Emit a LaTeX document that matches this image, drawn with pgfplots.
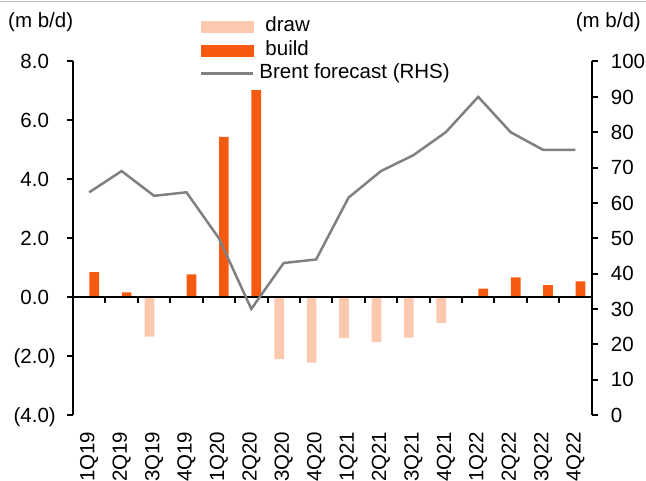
\documentclass[border=0pt]{standalone}
\usepackage{pgfplots}
\usepackage{pgfplotstable}
\pgfplotsset{compat=1.18}
\usepackage{fontspec}
\setmainfont{Liberation Sans}

\definecolor{drawc}{RGB}{252,201,175}
\definecolor{buildc}{RGB}{246,90,16}
\definecolor{brentc}{RGB}{128,128,128}
\definecolor{rulec}{RGB}{192,192,192}

% quarterly inventory change (m b/d) and Brent forecast (RHS)
\pgfplotstableread{
x  draw   build  brent
0   0      0.85  63
1   0      0.16  69
2  -1.34   0     62
3   0      0.77  63
4   0      5.44  50
5   0      7.03  30
6  -2.10   0     43
7  -2.22   0     44
8  -1.39   0     61.5
9  -1.53   0     69
10 -1.37   0     73.5
11 -0.87   0     80
12  0      0.29  90
13  0      0.67  80
14  0      0.41  75
15  0      0.54  75
}\datatable

\pgfplotsset{
  base/.style={
    scale only axis, width=518.7pt, height=353.5pt,
    at={(0pt,0pt)}, anchor=south west,
    xmin=-0.5, xmax=15.5,
    axis line style={line width=2pt, black},
    tick align=outside,
    major tick length=6pt,
    every tick/.style={black, line width=2pt},
    clip=false,
    /pgf/number format/assume math mode=true,
  }
}

\begin{document}
\fontsize{20.5}{24}\selectfont%
\begin{tikzpicture}
% left axis: stock draws and builds
\begin{axis}[base,
  ymin=-4, ymax=8,
  axis y line*=left, axis x line=none,
  ytick={-4,-2,0,2,4,6,8},
  yticklabels={(4.0),(2.0),0.0\phantom{)},2.0\phantom{)},4.0\phantom{)},6.0\phantom{)},8.0\phantom{)}},
  yticklabel style={anchor=east, inner sep=0pt, text height=14.7pt, text depth=0pt},
  yticklabel shift=11pt,
]
\addplot[ybar, bar width=9.7pt, bar shift=-4.5pt, fill=drawc, draw=none] table[x=x, y=draw]{\datatable};
\addplot[ybar, bar width=9.7pt, bar shift=5pt, fill=buildc, draw=none] table[x=x, y=build]{\datatable};
\draw[line width=2pt] (axis cs:-0.5,0) -- (axis cs:15.5,0);
\pgfplotsinvokeforeach{0.5,1.5,2.5,3.5,4.5,5.5,6.5,7.5,8.5,9.5,10.5,11.5,12.5,13.5,14.5}{
  \draw[line width=2pt] (axis cs:#1,0) -- ++(0pt,-6pt);
}
\end{axis}
% right axis: Brent price forecast
\begin{axis}[base,
  ymin=0, ymax=100,
  axis y line*=right, axis x line*=bottom,
  x axis line style={draw=none},
  xtick={0,...,15},
  xticklabels={1Q19,2Q19,3Q19,4Q19,1Q20,2Q20,3Q20,4Q20,1Q21,2Q21,3Q21,4Q21,1Q22,2Q22,3Q22,4Q22},
  xtick style={draw=none},
  xticklabel style={rotate=90, anchor=east, inner sep=0pt},
  xticklabel shift=10.5pt,
  ytick={0,10,...,100},
  yticklabel style={anchor=west, inner sep=0pt, text height=14.7pt, text depth=0pt, xshift=13pt},
  yticklabel shift=0pt,
  legend style={at={(0.2448,1.1253)}, anchor=north west, draw=none, fill=none,
    inner sep=0pt, outer sep=0pt, row sep=4.5pt, column sep=5pt,
    nodes={inner sep=0pt, text height=14.5pt, text depth=4.5pt}},
  legend cell align=left,
]
\addlegendimage{legend image code/.code={\fill[drawc] (0pt,-5.5pt) rectangle (52pt,5.5pt);}}
\addlegendentry{\hspace*{6pt}draw}
\addlegendimage{legend image code/.code={\fill[buildc] (0pt,-5.5pt) rectangle (52pt,5.5pt);}}
\addlegendentry{\hspace*{6pt}build}
\addplot[brentc, line width=2.5pt, mark=none,
  legend image code/.code={\draw[brentc, line width=2.5pt] (0pt,0pt) -- (52pt,0pt);}]
  table[x=x, y=brent]{\datatable};
\addlegendentry{Brent forecast (RHS)}
\end{axis}
\node[anchor=base west, inner sep=0pt] at (-65pt,387pt) {(m b/d)};
\node[anchor=base east, inner sep=0pt] at (568pt,387pt) {(m b/d)};
\draw[rulec, line width=1.5pt] (-73pt,413.5pt) -- (573pt,413.5pt);
\pgfresetboundingbox
\path (-73pt,-66pt) rectangle (573pt,415pt);
\end{tikzpicture}
\end{document}
